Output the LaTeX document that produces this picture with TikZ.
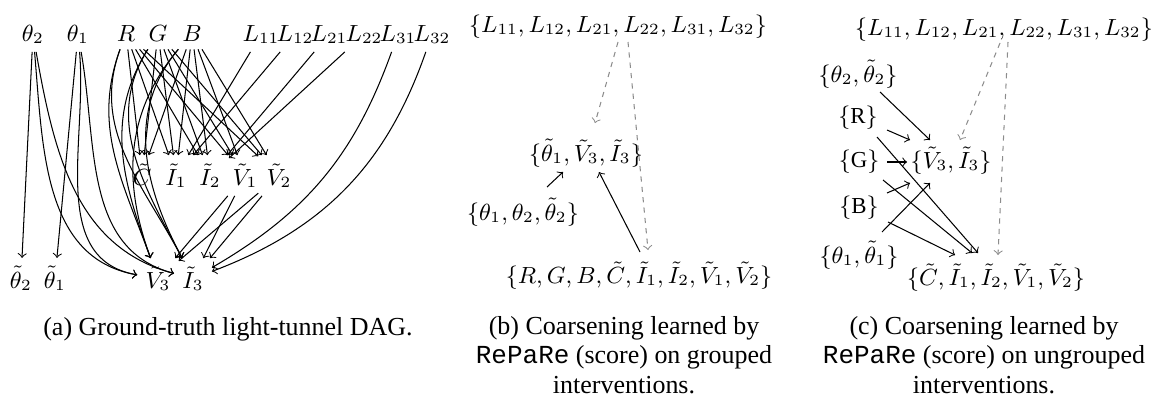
\documentclass[tikz,border=0pt]{standalone}
\usepackage{fontspec}
\setmainfont{Liberation Serif}
\setmonofont{Liberation Mono}
\usetikzlibrary{calc}
\begin{document}
\begin{tikzpicture}[x=0.385pt,y=-0.385pt,
 v/.style={font=\fontsize{8.8}{11}\selectfont, inner sep=3pt, anchor=base},
 captext/.style={font=\fontsize{10}{11.2}\selectfont, align=center, anchor=base, inner sep=0pt},
 e/.style={->, line width=0.4pt},
 de/.style={->, line width=0.4pt, draw=black!45, dash pattern=on 2pt off 2pt},
]
\useasboundingbox (0,0) rectangle (1151,402);
% ---------- panel (a)
\node[v] (t2) at (33,41) {$\theta_2$};
\node[v] (t1) at (78,41) {$\theta_1$};
\node[v] (R) at (126,41) {$R$};
\node[v] (G) at (158,41) {$G$};
\node[v] (B) at (192,41) {$B$};
\node[v] (L11) at (261,41) {$L_{11}$};
\node[v] (L12) at (295,41) {$L_{12}$};
\node[v] (L21) at (329,41) {$L_{21}$};
\node[v] (L22) at (364,41) {$L_{22}$};
\node[v] (L31) at (398,41) {$L_{31}$};
\node[v] (L32) at (432,41) {$L_{32}$};
\node[v] (C) at (142,185) {$\tilde{C}$};
\node[v] (I1) at (176,185) {$\tilde{I}_1$};
\node[v] (I2) at (210,185) {$\tilde{I}_2$};
\node[v] (V1) at (245,185) {$\tilde{V}_1$};
\node[v] (V2) at (279,185) {$\tilde{V}_2$};
\node[v] (tt2) at (21,288) {$\tilde{\theta}_2$};
\node[v] (tt1) at (55,288) {$\tilde{\theta}_1$};
\node[v] (V3) at (158,288) {$\tilde{V}_3$};
\node[v] (I3) at (193,288) {$\tilde{I}_3$};

\draw[e] (t2) -- (tt2);
\draw[e] (t1) -- (tt1);
\foreach \s in {t2,t1} {
  \draw[e] (\s) to[out=-85,in=170] (V3);
  \draw[e] (\s) to[out=-80,in=165] (I3);
}
\foreach \s in {R,G,B} {
  \foreach \t in {C,I1,I2,V1,V2} { \draw[e] (\s) -- (\t); }
}
\draw[e] (R) to[out=-110,in=110] (V3);
\draw[e] (R) to[out=-110,in=118] (I3);
\draw[e] (G) to[out=-122,in=110] (V3);
\draw[e] (G) to[out=-122,in=118] (I3);
\draw[e] (B) to[out=-130,in=110] (V3);
\draw[e] (B) to[out=-130,in=118] (I3);
\draw[e] (L11) -- (I1);
\draw[e] (L12) -- (I1);
\draw[e] (L21) -- (I2);
\draw[e] (L22) -- (I2);
\draw[e] (L31) to[bend left=20] (I3);
\draw[e] (L32) to[bend left=25] (I3);
\draw[e] (V1) -- (V3);
\draw[e] (V1) -- (I3);
\draw[e] (V2) -- (V3);
\draw[e] (V2) -- (I3);

\node[captext] (capa) at (228,335) {(a) Ground-truth light-tunnel DAG.};

% ---------- panel (b)
\node[v] (bL) at (618,32) {$\{L_{11},L_{12},L_{21},L_{22},L_{31},L_{32}\}$};
\node[v] (bM) at (586,161) {$\{\tilde{\theta}_1,\tilde{V}_3,\tilde{I}_3\}$};
\node[v] (bT) at (523,220) {$\{\theta_1,\theta_2,\tilde{\theta}_2\}$};
\node[v] (bB) at (639,283) {$\{R,G,B,\tilde{C},\tilde{I}_1,\tilde{I}_2,\tilde{V}_1,\tilde{V}_2\}$};
\draw[de] ($(bL.base)+(0,10)$) -- ($(bM.base)+(9,-38)$);
\draw[de] ($(bL.base)+(10,10)$) -- ($(bB.base)+(9,-33)$);
\draw[e] ($(bT.base)+(24,-33)$) -- ($(bM.base)+(-23,11)$);
\draw[e] ($(bB.base)+(1,-31)$) -- ($(bM.base)+(13,11)$);

\node[captext] (capb) at (624,393) {(b) Coarsening learned by\\\texttt{RePaRe} (score) on grouped\\interventions.};

% ---------- panel (c)
\node[v] (cL) at (1004,35) {$\{L_{11},L_{12},L_{21},L_{22},L_{31},L_{32}\}$};
\node[v] (cT2) at (858,82) {$\{\theta_2,\tilde{\theta}_2\}$};
\node[v] (cR) at (858,123) {$\{\mathrm{R}\}$};
\node[v] (cG) at (859,167) {$\{\mathrm{G}\}$};
\node[v] (cVI) at (951,168) {$\{\tilde{V}_3,\tilde{I}_3\}$};
\node[v] (cB) at (859,213) {$\{\mathrm{B}\}$};
\node[v] (cT1) at (859,263) {$\{\theta_1,\tilde{\theta}_1\}$};
\node[v] (cBot) at (996,285) {$\{\tilde{C},\tilde{I}_1,\tilde{I}_2,\tilde{V}_1,\tilde{V}_2\}$};

\draw[e] ($(cT2.base)+(22,10)$) -- ($(cVI.base)+(-21,-28)$);
\draw[e] ($(cR.base)+(29,7)$) -- ($(cVI.base)+(-41,-28)$);
\draw[e] ($(cR.base)+(19,14)$) -- ($(cBot.base)+(-18,-32)$);
\draw[e] ($(cG.base)+(28,-5)$) -- ($(cVI.base)+(-44,-6)$);
\draw[e] ($(cG.base)+(24,13)$) -- ($(cBot.base)+(-24,-32)$);
\draw[e] ($(cB.base)+(28,-20)$) -- ($(cVI.base)+(-41,15)$);
\draw[e] ($(cB.base)+(29,9)$) -- ($(cBot.base)+(-41,-30)$);
\draw[e] ($(cT1.base)+(23,-31)$) -- ($(cVI.base)+(-21,15)$);
\draw[de] ($(cL.base)+(-4,8)$) -- ($(cVI.base)+(9,-28)$);
\draw[de] ($(cL.base)+(4,7)$) -- ($(cBot.base)+(2,-30)$);

\node[captext] (capc) at (984,393) {(c) Coarsening learned by\\\texttt{RePaRe} (score) on ungrouped\\interventions.};
\end{tikzpicture}
\end{document}
